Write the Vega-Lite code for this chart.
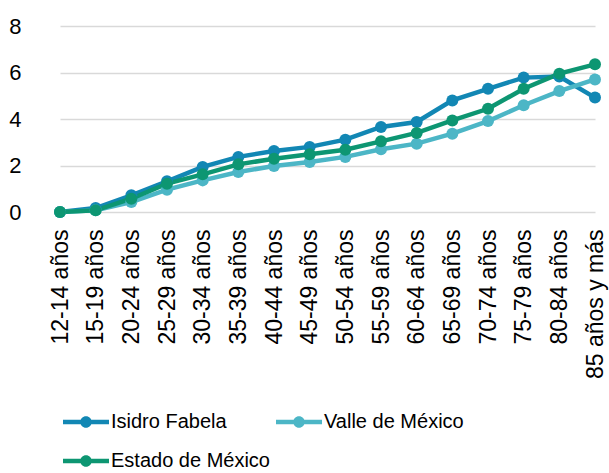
{
  "$schema": "https://vega.github.io/schema/vega-lite/v6.json",
  "width": 566,
  "height": 186,
  "autosize": "none",
  "padding": {"left": 43, "top": 26, "right": 0, "bottom": 261},
  "background": "white",
  "config": {
    "view": {"stroke": null},
    "font": "Liberation Sans",
    "axis": {"labelFont": "Liberation Sans", "labelColor": "#000000"}
  },
  "data": {
    "values": [
      {"serie": "Isidro Fabela", "edad": "12-14 años", "valor": 0},
      {"serie": "Isidro Fabela", "edad": "15-19 años", "valor": 0.17},
      {"serie": "Isidro Fabela", "edad": "20-24 años", "valor": 0.72},
      {"serie": "Isidro Fabela", "edad": "25-29 años", "valor": 1.32},
      {"serie": "Isidro Fabela", "edad": "30-34 años", "valor": 1.94},
      {"serie": "Isidro Fabela", "edad": "35-39 años", "valor": 2.37},
      {"serie": "Isidro Fabela", "edad": "40-44 años", "valor": 2.62},
      {"serie": "Isidro Fabela", "edad": "45-49 años", "valor": 2.8},
      {"serie": "Isidro Fabela", "edad": "50-54 años", "valor": 3.11},
      {"serie": "Isidro Fabela", "edad": "55-59 años", "valor": 3.66},
      {"serie": "Isidro Fabela", "edad": "60-64 años", "valor": 3.87},
      {"serie": "Isidro Fabela", "edad": "65-69 años", "valor": 4.8},
      {"serie": "Isidro Fabela", "edad": "70-74 años", "valor": 5.3},
      {"serie": "Isidro Fabela", "edad": "75-79 años", "valor": 5.78},
      {"serie": "Isidro Fabela", "edad": "80-84 años", "valor": 5.83},
      {"serie": "Isidro Fabela", "edad": "85 años y más", "valor": 4.92},
      {"serie": "Valle de México", "edad": "12-14 años", "valor": 0},
      {"serie": "Valle de México", "edad": "15-19 años", "valor": 0.07},
      {"serie": "Valle de México", "edad": "20-24 años", "valor": 0.43},
      {"serie": "Valle de México", "edad": "25-29 años", "valor": 0.96},
      {"serie": "Valle de México", "edad": "30-34 años", "valor": 1.36},
      {"serie": "Valle de México", "edad": "35-39 años", "valor": 1.72},
      {"serie": "Valle de México", "edad": "40-44 años", "valor": 1.98},
      {"serie": "Valle de México", "edad": "45-49 años", "valor": 2.15},
      {"serie": "Valle de México", "edad": "50-54 años", "valor": 2.37},
      {"serie": "Valle de México", "edad": "55-59 años", "valor": 2.7},
      {"serie": "Valle de México", "edad": "60-64 años", "valor": 2.94},
      {"serie": "Valle de México", "edad": "65-69 años", "valor": 3.37},
      {"serie": "Valle de México", "edad": "70-74 años", "valor": 3.91},
      {"serie": "Valle de México", "edad": "75-79 años", "valor": 4.59},
      {"serie": "Valle de México", "edad": "80-84 años", "valor": 5.2},
      {"serie": "Valle de México", "edad": "85 años y más", "valor": 5.7},
      {"serie": "Estado de México", "edad": "12-14 años", "valor": 0},
      {"serie": "Estado de México", "edad": "15-19 años", "valor": 0.07},
      {"serie": "Estado de México", "edad": "20-24 años", "valor": 0.57},
      {"serie": "Estado de México", "edad": "25-29 años", "valor": 1.22},
      {"serie": "Estado de México", "edad": "30-34 años", "valor": 1.62},
      {"serie": "Estado de México", "edad": "35-39 años", "valor": 2.05},
      {"serie": "Estado de México", "edad": "40-44 años", "valor": 2.29},
      {"serie": "Estado de México", "edad": "45-49 años", "valor": 2.48},
      {"serie": "Estado de México", "edad": "50-54 años", "valor": 2.68},
      {"serie": "Estado de México", "edad": "55-59 años", "valor": 3.04},
      {"serie": "Estado de México", "edad": "60-64 años", "valor": 3.4},
      {"serie": "Estado de México", "edad": "65-69 años", "valor": 3.94},
      {"serie": "Estado de México", "edad": "70-74 años", "valor": 4.44},
      {"serie": "Estado de México", "edad": "75-79 años", "valor": 5.3},
      {"serie": "Estado de México", "edad": "80-84 años", "valor": 5.95},
      {"serie": "Estado de México", "edad": "85 años y más", "valor": 6.35}
    ]
  },
  "encoding": {
    "x": {
      "field": "edad",
      "type": "ordinal",
      "sort": null,
      "scale": {"type": "point", "range": [17, 552], "padding": 0},
      "axis": {
        "title": null,
        "labelAngle": -90,
        "labelAlign": "right",
        "labelBaseline": "middle",
        "labelFontSize": 23,
        "labelPadding": 17,
        "ticks": false,
        "domain": false,
        "grid": false
      }
    },
    "y": {
      "field": "valor",
      "type": "quantitative",
      "scale": {"domain": [0, 8], "nice": false, "zero": true},
      "axis": {
        "title": null,
        "values": [0, 2, 4, 6, 8],
        "labelFontSize": 22,
        "labelPadding": 22,
        "ticks": false,
        "domain": false,
        "grid": true,
        "gridColor": "#d9d9d9",
        "gridWidth": 1.5
      }
    },
    "color": {
      "field": "serie",
      "type": "nominal",
      "scale": {
        "domain": ["Isidro Fabela", "Valle de México", "Estado de México"],
        "range": ["#1287b4", "#4cb6c6", "#0d9672"]
      },
      "legend": {
        "title": null,
        "orient": "none",
        "legendX": 33,
        "legendY": 386,
        "direction": "horizontal",
        "columns": 2,
        "columnPadding": 6,
        "rowPadding": 19,
        "symbolType": "M-4.6,-0.45L4.6,-0.45L4.6,0.45L-4.6,0.45Z M-1.15,0A1.15,1.15 0 1,1 1.15,0A1.15,1.15 0 1,1 -1.15,0Z",
        "symbolSize": 100,
        "symbolStrokeWidth": 0,
        "labelOffset": 15,
        "labelFontSize": 20,
        "labelColor": "#000000",
        "labelLimit": 400,
        "encode": {
          "symbols": {
            "update": {
              "fill": {"scale": "color", "field": "value"},
              "strokeWidth": {"value": 0},
              "opacity": {"value": 1}
            }
          }
        }
      }
    }
  },
  "layer": [
    {"mark": {"type": "line", "strokeWidth": 4.5}},
    {"mark": {"type": "point", "filled": true, "size": 144, "opacity": 1}}
  ]
}
